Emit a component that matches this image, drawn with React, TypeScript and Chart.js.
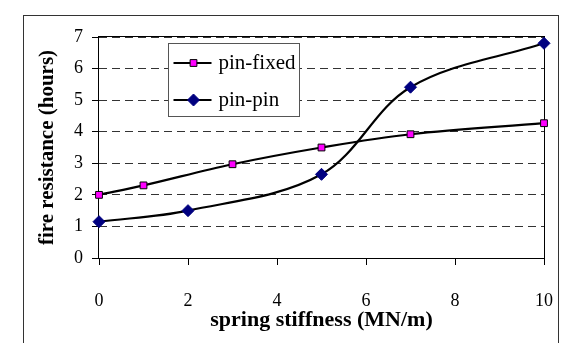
import { useEffect, useRef } from "react";
import { Chart, registerables } from "chart.js";

Chart.register(...registerables);

// Spring stiffness (MN/m) at which each restraint case was evaluated
const pinFixedStiffness = [0, 1, 3, 5, 7, 10];
const pinFixedHours = [2.0, 2.3, 2.97, 3.5, 3.92, 4.27];

const pinPinStiffness = [0, 2, 5, 7, 10];
const pinPinHours = [1.15, 1.5, 2.65, 5.41, 6.8];

const xTicks = [0, 2, 4, 6, 8, 10];
const yTicks = [0, 1, 2, 3, 4, 5, 6, 7];

const seriesNames = ["pin-fixed", "pin-pin"];
const xTitle = "spring stiffness (MN/m)";
const yTitle = "fire resistance (hours)";

const SERIF = "'Liberation Serif', 'Times New Roman', serif";

const toPoints = (xs: number[], ys: number[]) => xs.map((x, i) => ({ x, y: ys[i] }));

// Outer frame around the whole figure
const framePlugin = {
  id: "frame",
  beforeDraw(chart: any) {
    const ctx = chart.ctx;
    ctx.save();
    ctx.fillStyle = "#fff";
    ctx.fillRect(0, 0, chart.width, chart.height);
    ctx.strokeStyle = "#333";
    ctx.lineWidth = 1;
    ctx.strokeRect(23.5, 15.5, 535, 340);
    ctx.restore();
  },
};

// Solid border around the plotting area
const plotBorderPlugin = {
  id: "plotBorder",
  beforeDatasetsDraw(chart: any) {
    const { ctx, chartArea: a } = chart;
    ctx.save();
    ctx.strokeStyle = "#000";
    ctx.lineWidth = 1;
    ctx.strokeRect(
      Math.round(a.left) - 0.5,
      Math.round(a.top) - 0.5,
      Math.round(a.right - a.left) + 1,
      Math.round(a.bottom - a.top) + 1
    );
    ctx.restore();
  },
};

function drawMarker(ctx: CanvasRenderingContext2D, ds: any, x: number, y: number) {
  const r = ds.pointRadius;
  ctx.fillStyle = ds.pointBackgroundColor;
  ctx.strokeStyle = ds.pointBorderColor;
  ctx.lineWidth = ds.pointBorderWidth;
  ctx.beginPath();
  if (ds.pointStyle === "rectRot") {
    ctx.moveTo(x, y - r);
    ctx.lineTo(x + r, y);
    ctx.lineTo(x, y + r);
    ctx.lineTo(x - r, y);
    ctx.closePath();
  } else {
    const s = r * Math.SQRT1_2;
    ctx.rect(x - s, y - s, 2 * s, 2 * s);
  }
  ctx.fill();
  ctx.stroke();
}

// Boxed legend inside the plot area, drawn under the data lines
const boxLegendPlugin = {
  id: "boxLegend",
  beforeDatasetsDraw(chart: any) {
    const { ctx, chartArea: a } = chart;
    const x0 = a.left + 69.5;
    const y0 = a.top + 6.5;
    const w = 131;
    const h = 73;
    ctx.save();
    ctx.fillStyle = "#fff";
    ctx.fillRect(x0, y0, w, h);
    ctx.strokeStyle = "#555";
    ctx.lineWidth = 1;
    ctx.strokeRect(x0, y0, w, h);
    chart.data.datasets.forEach((ds: any, i: number) => {
      const cy = y0 + 19.5 + i * 37;
      ctx.strokeStyle = "#000";
      ctx.lineWidth = 2.2;
      ctx.beginPath();
      ctx.moveTo(x0 + 5, cy);
      ctx.lineTo(x0 + 43, cy);
      ctx.stroke();
      drawMarker(ctx, ds, x0 + 25, cy);
      ctx.fillStyle = "#000";
      ctx.font = `21px ${SERIF}`;
      ctx.textBaseline = "middle";
      ctx.textAlign = "left";
      ctx.fillText(ds.label, x0 + 50, cy);
    });
    ctx.restore();
  },
};

export default function App() {
  const canvasRef = useRef<HTMLCanvasElement | null>(null);

  useEffect(() => {
    const canvas = canvasRef.current;
    if (!canvas) return;

    const chart = new Chart(canvas, {
      type: "line",
      data: {
        datasets: [
          {
            label: seriesNames[0],
            data: toPoints(pinFixedStiffness, pinFixedHours),
            borderColor: "#000",
            borderWidth: 2.2,
            tension: 0.35,
            pointStyle: "rect",
            pointRadius: 4.8,
            pointBackgroundColor: "#ff00ff",
            pointBorderColor: "#000",
            pointBorderWidth: 1,
            clip: false as any,
          },
          {
            label: seriesNames[1],
            data: toPoints(pinPinStiffness, pinPinHours),
            borderColor: "#000",
            borderWidth: 2.2,
            tension: 0.35,
            pointStyle: "rectRot",
            pointRadius: 6,
            pointBackgroundColor: "#000080",
            pointBorderColor: "#000080",
            pointBorderWidth: 1,
            clip: false as any,
          },
        ],
      },
      options: {
        responsive: false,
        animation: false,
        devicePixelRatio: 1,
        layout: { padding: { left: 0, top: 37, right: 18, bottom: 0 } },
        plugins: {
          legend: { display: false },
          tooltip: { enabled: false },
        },
        scales: {
          x: {
            type: "linear",
            min: 0,
            max: 10,
            afterBuildTicks: (scale: any) => {
              scale.ticks = xTicks.map((v) => ({ value: v }));
            },
            afterFit: (scale: any) => {
              scale.height = 85;
              scale.paddingLeft = 0;
              scale.paddingRight = 0;
            },
            border: { display: false },
            grid: {
              drawOnChartArea: false,
              drawTicks: true,
              tickLength: 7,
              tickColor: "#000",
              tickWidth: 1,
            },
            ticks: {
              color: "#000",
              padding: 25,
              maxRotation: 0,
              font: { family: SERIF, size: 18 },
            },
            title: {
              display: true,
              text: xTitle,
              color: "#000",
              padding: { top: 0, bottom: 9 },
              font: { family: SERIF, size: 22, weight: "bold" },
            },
          },
          y: {
            type: "linear",
            min: 0,
            max: 7,
            afterBuildTicks: (scale: any) => {
              scale.ticks = yTicks.map((v) => ({ value: v }));
            },
            afterFit: (scale: any) => {
              scale.width = 99;
            },
            border: { display: false, dash: [8, 5] },
            grid: {
              color: "#333",
              lineWidth: 1,
              tickLength: 7,
              tickColor: "#000",
              tickWidth: 1,
              tickBorderDash: [],
            } as any,
            ticks: {
              color: "#000",
              padding: 9,
              font: { family: SERIF, size: 18 },
            },
            title: {
              display: true,
              text: yTitle,
              color: "#000",
              padding: { top: 35, bottom: 0 },
              font: { family: SERIF, size: 21, weight: "bold" },
            },
          },
        },
      } as any,
      plugins: [framePlugin, boxLegendPlugin, plotBorderPlugin],
    });

    return () => chart.destroy();
  }, []);

  return (
    <div style={{ position: "fixed", left: 0, top: 0, width: 562, height: 343, background: "#fff" }}>
      <canvas ref={canvasRef} width={562} height={343} style={{ display: "block" }} />
    </div>
  );
}
